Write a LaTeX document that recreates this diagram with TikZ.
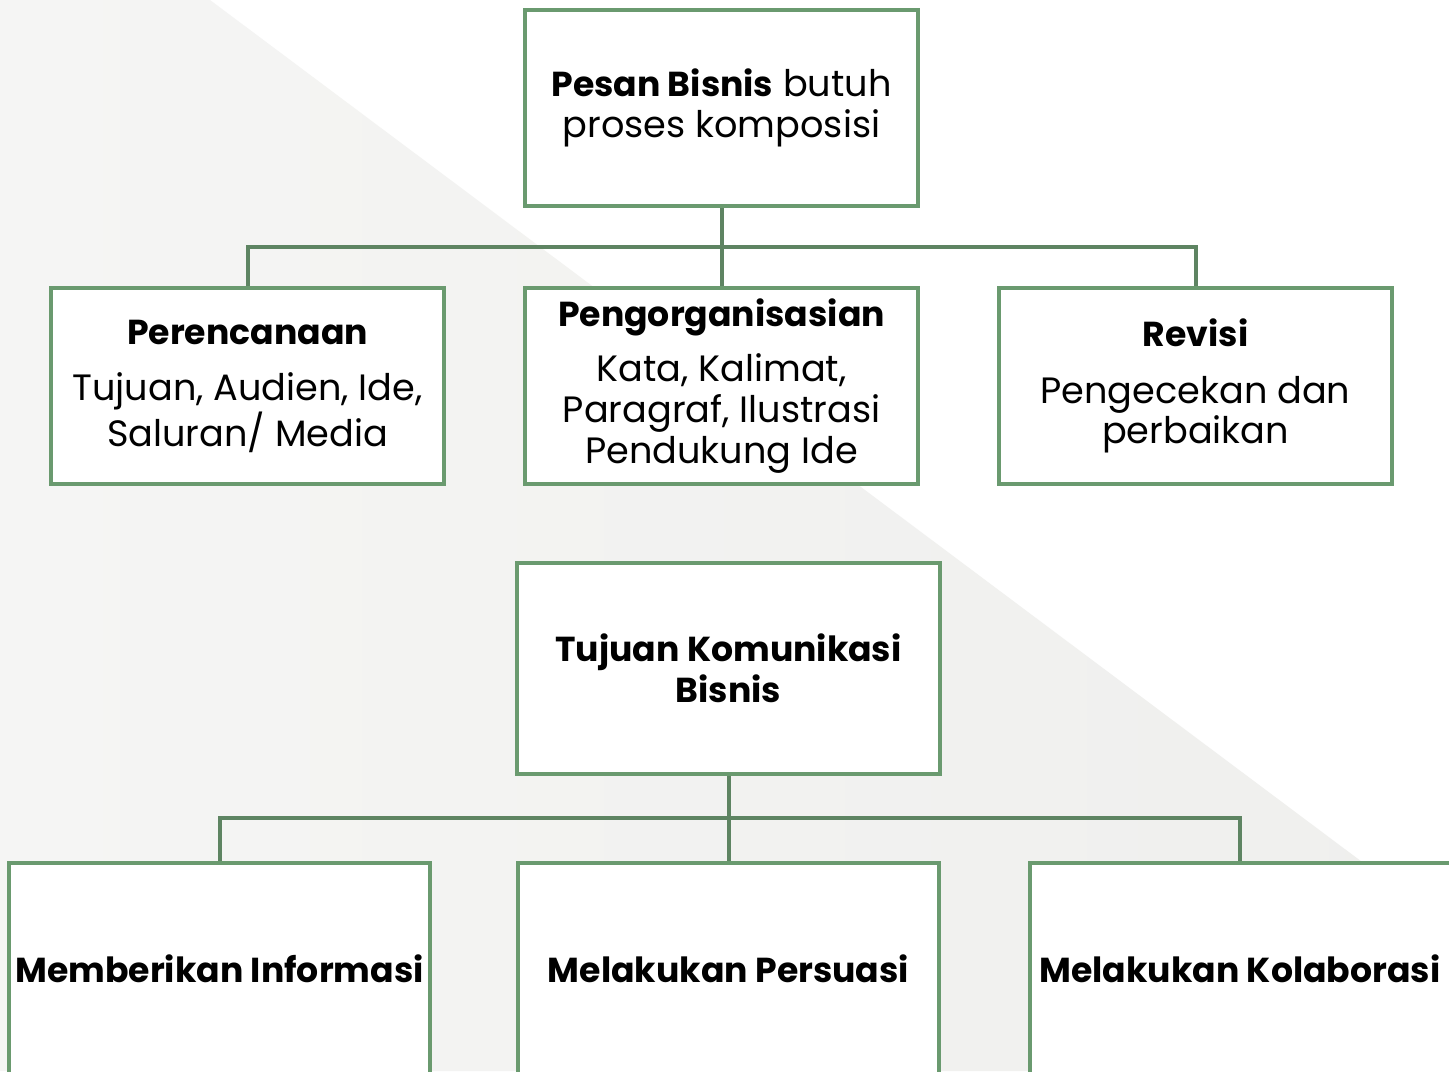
\documentclass[tikz,border=0pt]{standalone}
\usepackage{fontspec}
\setmainfont{Poppins}
\definecolor{boxgreen}{HTML}{6A9A6F}
\definecolor{linegreen}{HTML}{5E8462}
\definecolor{bgleft}{HTML}{F5F5F4}
\definecolor{bgright}{HTML}{EFEFED}
\newcommand{\boldtxt}[1]{{\fontsize{26}{30.5}\selectfont\bfseries #1}}
\begin{document}
\begin{tikzpicture}[x=0.75pt,y=-0.75pt,
  every node/.style={font=\fontsize{27.5}{30.5}\selectfont, align=center, inner sep=0pt},
  greenbox/.style={draw=boxgreen, line width=3pt, fill=white, rectangle},
  rowbox/.style={greenbox, minimum width=294.75pt, minimum height=147pt},
  midbox/.style={greenbox, minimum width=317.25pt, minimum height=158.25pt},
  lowbox/.style={greenbox, minimum width=315.75pt, minimum height=159pt},
  conn/.style={draw=linegreen, line width=3pt}]
\useasboundingbox (0,0) rectangle (1449,1071);
\fill[white] (0,0) rectangle (1449,1071);
\shade[left color=bgleft, right color=bgright] (0,0) -- (210,0) -- (1449,927) -- (1449,1071) -- (0,1071) -- cycle;

\coordinate (bar1) at (721.5,247);
\coordinate (bar2) at (729,818);

\node[rowbox] (top) at (721.5,108) {\boldtxt{Pesan Bisnis} butuh\\proses komposisi};
\node[rowbox] (p1) at (247.5,386) {\boldtxt{Perencanaan}\\[12pt]Tujuan, Audien, Ide,\\Saluran/ Media};
\node[rowbox] (p2) at (721.5,386) {\boldtxt{Pengorganisasian}\\[11pt]Kata, Kalimat,\\Paragraf, Ilustrasi\\Pendukung Ide};
\node[rowbox] (p3) at (1195.5,386) {\boldtxt{Revisi}\\[12pt]Pengecekan dan\\perbaikan};

\node[midbox] (goal) at (728.5,668.5) {\boldtxt{Tujuan Komunikasi}\\\boldtxt{Bisnis}};
\node[lowbox] (q1) at (219.5,969) {\boldtxt{Memberikan Informasi}};
\node[lowbox] (q2) at (728.5,969) {\boldtxt{Melakukan Persuasi}};
\node[lowbox] (q3) at (1240,969) {\boldtxt{Melakukan Kolaborasi}};

\draw[conn] (top.south) -- (p2.north);
\draw[conn] (p1.north) |- (bar1) -| (p3.north);
\draw[conn] (goal.south) -- (q2.north);
\draw[conn] (q1.north) |- (bar2) -| (q3.north);
\end{tikzpicture}
\end{document}
